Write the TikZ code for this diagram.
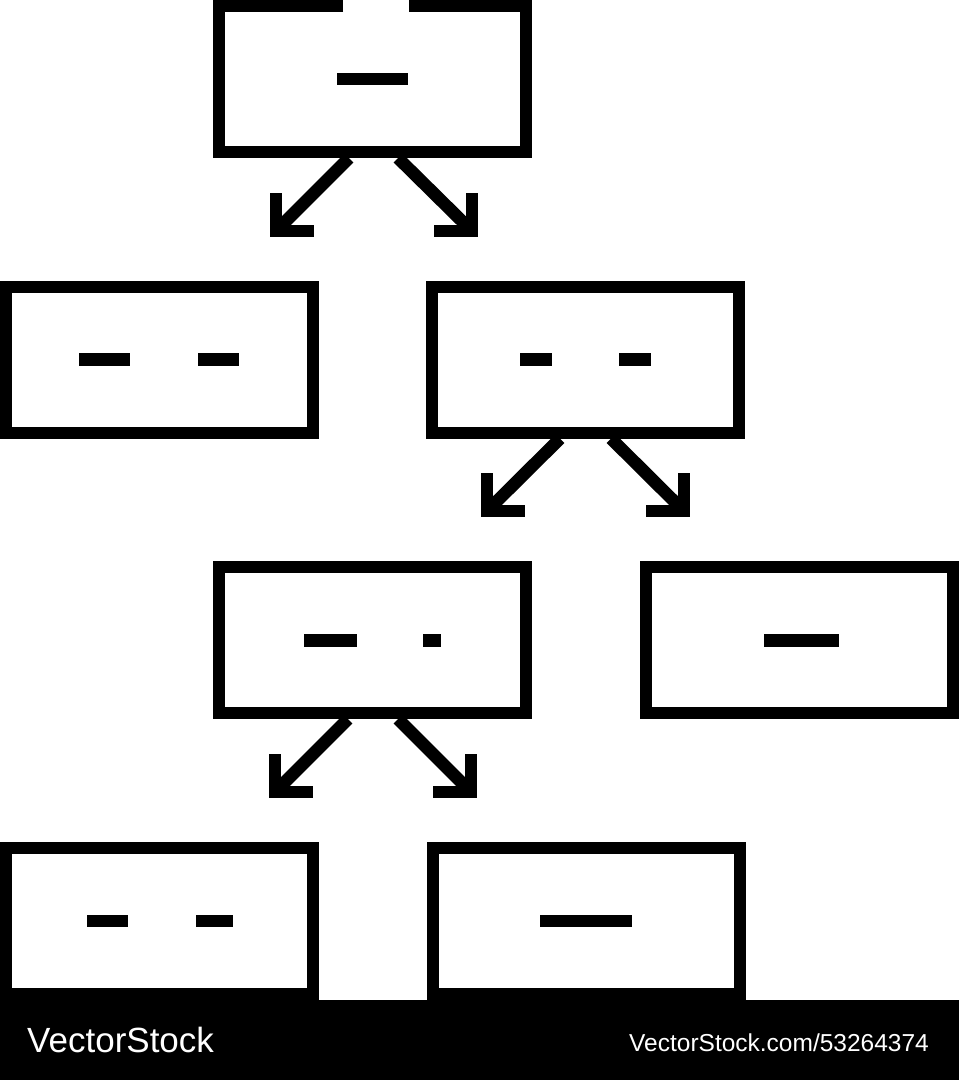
\documentclass[tikz,border=0pt]{standalone}
\usepackage{fontspec}
\setmainfont{Liberation Sans}
\begin{document}
\begin{tikzpicture}[x=1pt,y=-1pt,
  box/.style={draw=black,line width=12pt,minimum width=307pt,minimum height=146pt,inner sep=0pt,line join=miter},
  edge/.style={draw=black,line width=12pt,line join=miter},
  bar/.style={line width=12.5pt,line cap=butt},
  shaft/.style={line width=12.5pt,line cap=butt},
  head/.style={line width=12.5pt,line join=miter,line cap=butt},
  wm/.style={text=white,inner sep=0pt,anchor=base west}]
\useasboundingbox (0,0) rectangle (959,1080);
% boxes
\node[box,draw=none] (b1) at (372.5,79) {};
\draw[edge] (343,6) -- (219,6) -- (219,152) -- (526,152) -- (526,6) -- (409,6);
\node[box] (b2) at (159,359.5) {};
\node[box] (b3) at (585.5,359.5) {};
\node[box] (b4) at (372.5,640) {};
\node[box] (b5) at (799.5,640) {};
\node[box] (b6) at (159.5,921) {};
\node[box] (b7) at (586,921) {};
% bars inside boxes
\draw[bar] (337,79) -- (408,79);
\draw[bar] (79,359.5) -- (130,359.5);
\draw[bar] (198,359.5) -- (239,359.5);
\draw[bar] (520,359.5) -- (552,359.5);
\draw[bar] (619,359.5) -- (651,359.5);
\draw[bar] (304,640.5) -- (357,640.5);
\draw[bar] (423,640.5) -- (441,640.5);
\draw[bar] (764,640.5) -- (839,640.5);
\draw[bar] (87,921) -- (128,921);
\draw[bar] (196,921) -- (233,921);
\draw[bar] (540,921) -- (632,921);
% arrow tips
\coordinate (t1l) at (276,231);
\coordinate (t1r) at (472,231);
\coordinate (t3l) at (487,511);
\coordinate (t3r) at (684,511);
\coordinate (t4l) at (275,792);
\coordinate (t4r) at (471,792);
% arrows from b1
\draw[shaft] ([xshift=-23.5pt]b1.south) -- (t1l);
\draw[head] (t1l) ++(0,-38) -- (t1l) -- ++(38,0);
\draw[shaft] ([xshift=25.5pt]b1.south) -- (t1r);
\draw[head] (t1r) ++(0,-38) -- (t1r) -- ++(-38,0);
% arrows from b3
\draw[shaft] ([xshift=-25.5pt]b3.south) -- (t3l);
\draw[head] (t3l) ++(0,-38) -- (t3l) -- ++(38,0);
\draw[shaft] ([xshift=25.5pt]b3.south) -- (t3r);
\draw[head] (t3r) ++(0,-38) -- (t3r) -- ++(-38,0);
% arrows from b4
\draw[shaft] ([xshift=-24.5pt]b4.south) -- (t4l);
\draw[head] (t4l) ++(0,-38) -- (t4l) -- ++(38,0);
\draw[shaft] ([xshift=25.5pt]b4.south) -- (t4r);
\draw[head] (t4r) ++(0,-38) -- (t4r) -- ++(-38,0);
% watermark bar
\fill[black] (0,1000) rectangle (959,1080);
\node[wm,font=\fontsize{35}{35}\selectfont] (wm1) at (27,1052) {VectorStock};
\node[wm,font=\fontsize{24.5}{24.5}\selectfont] (wm2) at (629,1051) {VectorStock.com/53264374};
\end{tikzpicture}
\end{document}
